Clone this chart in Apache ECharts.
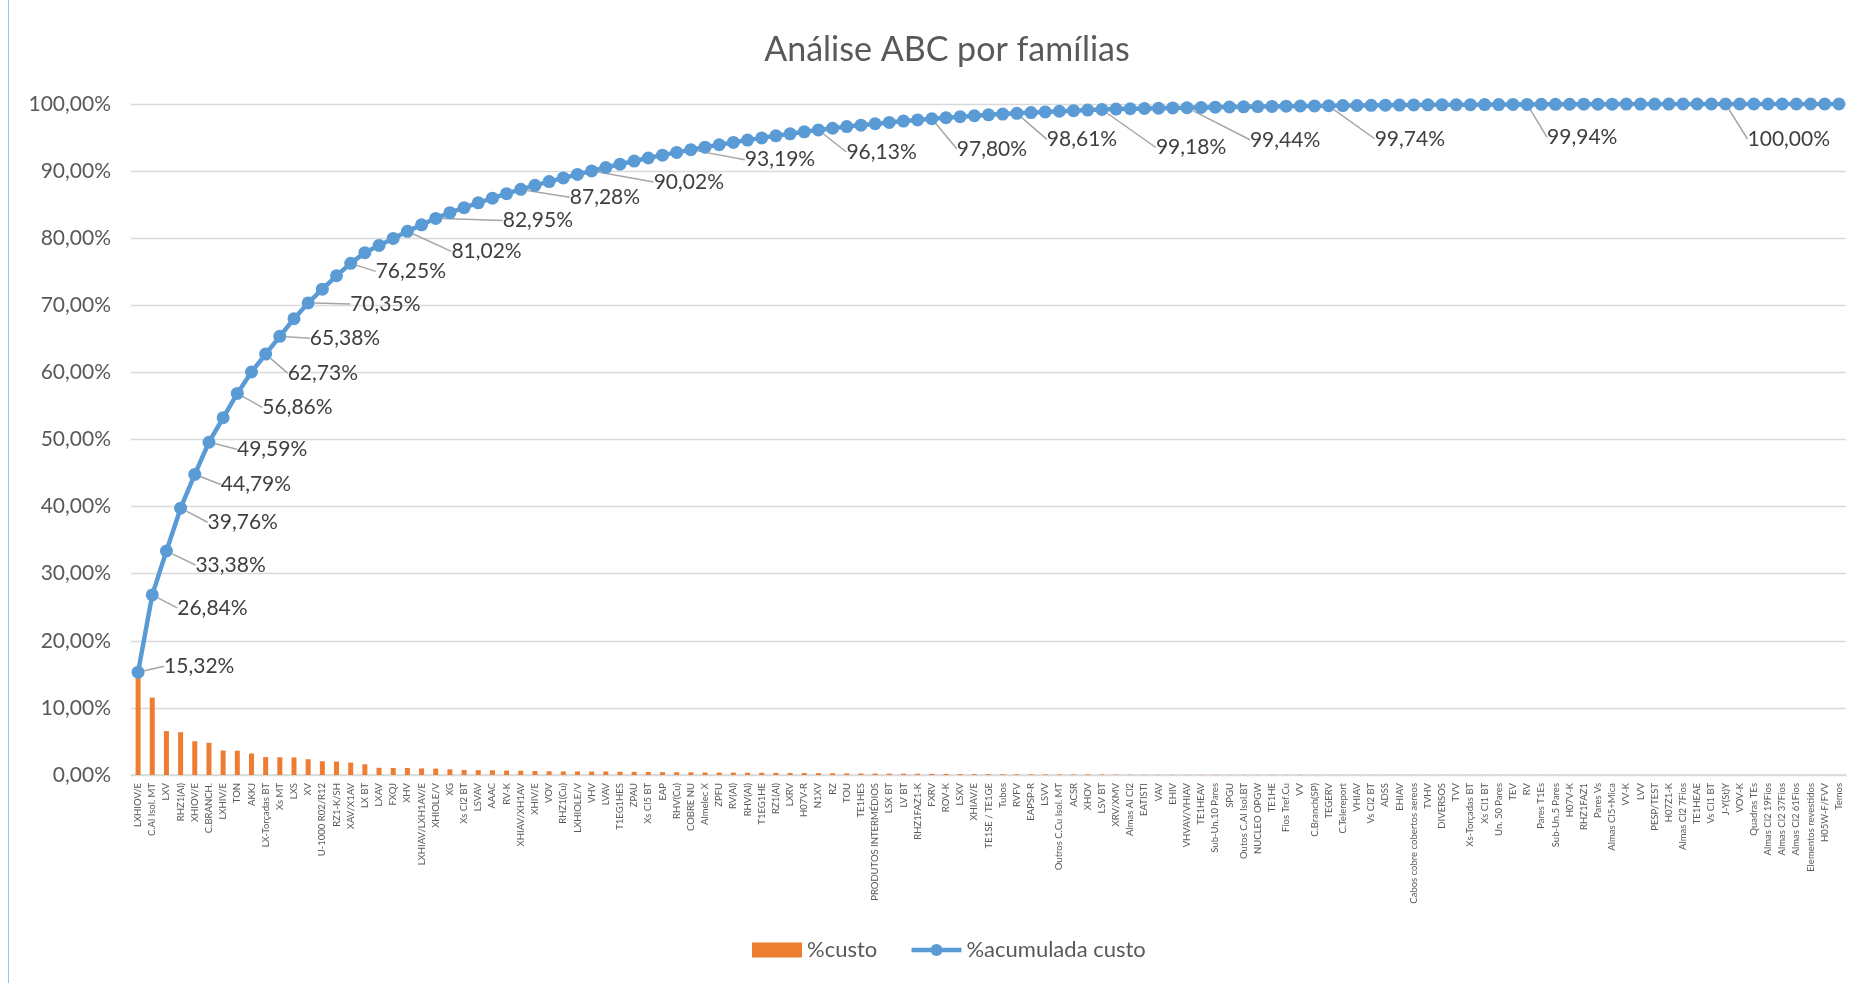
<!DOCTYPE html>
<html>
<head>
<meta charset="utf-8">
<title>Análise ABC por famílias</title>
<script src="https://cdn.jsdelivr.net/npm/echarts@6/dist/echarts.min.js"></script>
<style>
  html, body { margin: 0; padding: 0; background: #fff; }
  #wrap { position: relative; width: 1872px; height: 983px; }
  #chart { width: 1872px; height: 983px; }
  #edge { position: absolute; left: 8px; top: 0; width: 1px; height: 983px; background: #9dc3e6; }
</style>
</head>
<body>
<div id="wrap">
  <div id="chart"></div>
  <div id="edge"></div>
</div>
<script>
// categories (families), in Pareto order
var families = [
  'LXHIOV/E', 'C.Al Isol. MT', 'LXV', 'RHZ1(Al)', 'XHIOV/E', 'C.BRANCH.', 'LXHIV/E', 'TON', 'AKKJ', 'LX-Torçadas BT',
  'Xs MT', 'LXS', 'XV', 'U-1000 R02/R12', 'RZ1-K/SH', 'XAV/X1AV', 'LX BT', 'LXAV', 'FXQJ', 'XHV',
  'LXHIAV/LXH1AV/E', 'XHIOLE/V', 'XG', 'Xs Cl2 BT', 'LSVAV', 'AAAC', 'RV-K', 'XHIAV/XH1AV', 'XHIV/E', 'VOV',
  'RHZ1(Cu)', 'LXHIOLE/V', 'VHV', 'LVAV', 'T1EG1HES', 'ZPAU', 'Xs Cl5 BT', 'EAP', 'RHV(Cu)', 'COBRE NU',
  'Almelec X', 'ZPFU', 'RV(Al)', 'RHV(Al)', 'T1EG1HE', 'RZ1(Al)', 'LXRV', 'H07V-R', 'N1XV', 'RZ',
  'TOU', 'TE1HES', 'PRODUTOS INTERMÉDIOS', 'LSX BT', 'LV BT', 'RHZ1FAZ1-K', 'FXRV', 'ROV-K', 'LSXV', 'XHIAV/E',
  'TE1SE / TE1GE', 'Tubos', 'RVFV', 'EAPSP-R', 'LSVV', 'Outros C.Cu Isol. MT', 'ACSR', 'XHOV', 'LSV BT', 'XRV/XMV',
  'Almas Al Cl2', 'EATISTI', 'VAV', 'EHIV', 'VHVAV/VHIAV', 'TE1HEAV', 'Sub-Un.10 Pares', 'SPGU', 'Outos C.Al Isol.BT', 'NUCLEO OPGW',
  'TE1HE', 'Fios Tref.Cu', 'VV', 'C.Branch(SP)', 'TEGERV', 'C.Telereport', 'VHIAV', 'Vs Cl2 BT', 'ADSS', 'EHIAV',
  'Cabos cobre cobertos aereos', 'TVHV', 'DIVERSOS', 'TVV', 'Xs-Torçadas BT', 'Xs Cl1 BT', 'Un. 50 Pares', 'TEV', 'RV', 'Pares T1Es',
  'Sub-Un.5 Pares', 'H07V-K', 'RHZ1FAZ1', 'Pares Vs', 'Almas Cl5+Mica', 'VV-K', 'LVV', 'PESP/TEST', 'H07Z1-K', 'Almas Cl2 7Fios',
  'TE1HEAE', 'Vs Cl1 BT', 'J-Y(St)Y', 'VOV-K', 'Quadras TEs', 'Almas Cl2 19Fios', 'Almas Cl2 37Fios', 'Almas Cl2 61Fios', 'Elementos revestidos', 'H05W-F/FVV',
  'Temos'
];

// %custo per family (bars)
var pctCusto = [
  15.32, 11.52, 6.54, 6.38, 5.03, 4.80, 3.65, 3.62, 3.20, 2.67,
  2.65, 2.62, 2.35, 2.05, 2.00, 1.85, 1.60, 1.07, 1.05, 1.05,
  0.98, 0.95, 0.85, 0.75, 0.72, 0.70, 0.66, 0.65, 0.60, 0.56,
  0.54, 0.53, 0.51, 0.52, 0.49, 0.47, 0.45, 0.43, 0.41, 0.40,
  0.38, 0.36, 0.35, 0.34, 0.33, 0.31, 0.30, 0.29, 0.28, 0.26,
  0.24, 0.22, 0.21, 0.20, 0.19, 0.18, 0.17, 0.16, 0.15, 0.14,
  0.13, 0.12, 0.11, 0.11, 0.10, 0.10, 0.09, 0.09, 0.08, 0.06,
  0.05, 0.04, 0.04, 0.04, 0.03, 0.04, 0.04, 0.03, 0.03, 0.03,
  0.03, 0.03, 0.03, 0.02, 0.02, 0.02, 0.02, 0.02, 0.02, 0.02,
  0.02, 0.01, 0.01, 0.01, 0.01, 0.01, 0.01, 0.01, 0.01, 0.01,
  0.008, 0.007, 0.006, 0.005, 0.005, 0.004, 0.004, 0.003, 0.002, 0.002,
  0.001, 0.001, 0.001, 0.0002, 0.0002, 0.0001, 0.0001, 0.0001, 0.0001, 0.0001,
  0.0001
];

// %acumulada custo (line)
var pctAcumulada = [
  15.32, 26.84, 33.38, 39.76, 44.79, 49.59, 53.24, 56.86, 60.06, 62.73,
  65.38, 68.00, 70.35, 72.40, 74.40, 76.25, 77.85, 78.92, 79.97, 81.02,
  82.00, 82.95, 83.80, 84.55, 85.27, 85.97, 86.63, 87.28, 87.88, 88.44,
  88.98, 89.51, 90.02, 90.54, 91.03, 91.50, 91.95, 92.38, 92.79, 93.19,
  93.57, 93.93, 94.28, 94.62, 94.95, 95.26, 95.56, 95.85, 96.13, 96.39,
  96.63, 96.85, 97.06, 97.26, 97.45, 97.63, 97.80, 97.96, 98.11, 98.25,
  98.38, 98.50, 98.61, 98.72, 98.82, 98.92, 99.01, 99.10, 99.18, 99.24,
  99.29, 99.33, 99.37, 99.41, 99.44, 99.48, 99.52, 99.55, 99.58, 99.61,
  99.64, 99.67, 99.70, 99.72, 99.74, 99.76, 99.78, 99.80, 99.82, 99.84,
  99.86, 99.87, 99.88, 99.89, 99.90, 99.91, 99.92, 99.93, 99.94, 99.95,
  99.958, 99.965, 99.971, 99.976, 99.981, 99.985, 99.989, 99.992, 99.994, 99.996,
  99.997, 99.998, 99.999, 99.9992, 99.9994, 99.9995, 99.9996, 99.9997, 99.9998, 99.9999,
  100.00
];

// y axis ticks
var yTicks = { min: 0, max: 100, step: 10 };

// which points carry a data label, and where the label was dragged to (dx, dy from point)
var labeledIdx = [0, 1, 2, 3, 4, 5, 7, 9, 10, 12, 15, 19, 21, 27, 32, 39, 48, 56, 62, 68, 74, 84, 98, 112];
var labelOffsets = [
  [26, -6], [25, 13], [29, 14], [27, 14], [26, 10], [28, 7], [25, 14], [22, 19], [30, 2], [42, 1],
  [25, 8], [44, 20], [67, 2], [49, 8], [62, 11], [54, 10], [28, 22], [25, 30], [30, 26], [54, 38],
  [63, 32], [46, 33], [20, 33], [22, 35]
];

function pct(v) {
  return v.toFixed(2).replace('.', ',') + '%';
}

var FONT = 'Lato, "Open Sans", sans-serif';
var TXT = '#595959';

var lineData = pctAcumulada.map(function (v, i) {
  if (labeledIdx.indexOf(i) >= 0) {
    return { value: v, label: { show: true }, labelLine: { show: true } };
  }
  return v;
});

var chart = echarts.init(document.getElementById('chart'), null, { renderer: 'canvas' });

chart.setOption({
  animation: false,
  backgroundColor: '#fff',
  textStyle: { fontFamily: FONT },
  title: {
    text: 'Análise ABC por famílias',
    left: 942,
    textAlign: 'center',
    top: 28,
    textStyle: { fontFamily: FONT, fontSize: 34, fontWeight: 'normal', color: TXT }
  },
  legend: {
    bottom: 17,
    left: 747,
    itemWidth: 50,
    itemHeight: 15,
    itemGap: 32,
    textStyle: { fontFamily: FONT, fontSize: 22, color: TXT },
    lineStyle: { width: 4.5 },
    data: [
      { name: '%custo', icon: 'rect' },
      { name: '%acumulada custo' }
    ]
  },
  grid: { left: 131, right: 26, top: 104, bottom: 208, containLabel: false },
  xAxis: {
    type: 'category',
    data: families,
    boundaryGap: true,
    axisTick: { show: false },
    axisLine: { lineStyle: { color: '#d9d9d9', width: 1.5 } },
    axisLabel: {
      interval: 0,
      rotate: 90,
      fontSize: 9.5,
      color: TXT,
      margin: 8,
      fontFamily: FONT
    }
  },
  yAxis: {
    type: 'value',
    min: yTicks.min,
    max: yTicks.max,
    interval: yTicks.step,
    axisLine: { show: false },
    axisTick: { show: false },
    splitLine: { lineStyle: { color: '#d9d9d9', width: 1.3 } },
    axisLabel: {
      formatter: pct,
      fontSize: 21,
      color: TXT,
      margin: 20,
      fontFamily: FONT
    }
  },
  series: [
    {
      name: '%custo',
      type: 'bar',
      data: pctCusto,
      barWidth: 5,
      itemStyle: { color: '#ED7D31' },
      z: 1
    },
    {
      name: '%acumulada custo',
      type: 'line',
      data: lineData,
      symbol: 'circle',
      symbolSize: 13,
      showAllSymbol: true,
      lineStyle: { color: '#5B9BD5', width: 4.5 },
      itemStyle: { color: '#5B9BD5' },
      z: 3,
      label: {
        show: false,
        formatter: function (p) { return pct(p.value); },
        fontSize: 21,
        color: '#404040',
        fontFamily: FONT
      },
      labelLine: { show: false, lineStyle: { color: '#a6a6a6', width: 1.5 } },
      labelLayout: function (p) {
        var k = labeledIdx.indexOf(p.dataIndex);
        if (k < 0) return {};
        var off = labelOffsets[k];
        return {
          x: p.rect.x + p.rect.width / 2 + off[0],
          y: p.rect.y + p.rect.height / 2 + off[1],
          align: 'left',
          verticalAlign: 'middle'
        };
      }
    }
  ]
});

window.addEventListener('resize', function () { chart.resize(); });
</script>
</body>
</html>
